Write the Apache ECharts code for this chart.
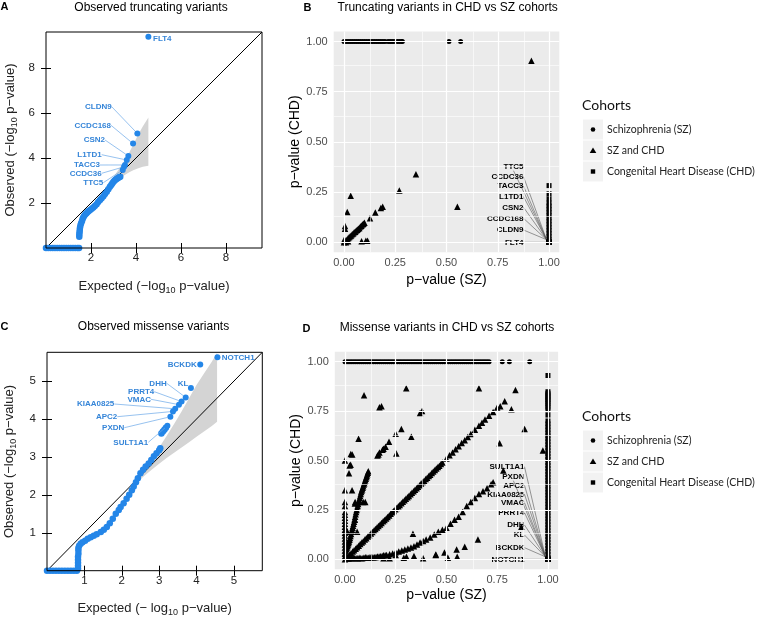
<!DOCTYPE html>
<html><head><meta charset="utf-8">
<script src="https://cdn.jsdelivr.net/npm/echarts@6/dist/echarts.min.js"></script>
<style>html,body{margin:0;padding:0;background:#fff}#c{width:758px;height:618px}</style>
</head><body><div id="c"></div>
<script>
// ---------------- DATA ----------------
// Panel A : QQ plot, truncating variants (expected / observed -log10 p)
const qqA_exp = [0,0.1,0.2,0.3,0.4,0.5,0.6,0.7,0.8,0.9,1.0,1.1,1.2,1.3,1.4,1.47,
  1.48,1.48,1.49,1.5,1.51,1.53,1.56,1.6,1.63,1.66,1.7,1.75,1.8,1.85,1.9,1.96,2.03,2.1,2.17,2.25,2.32,2.4,2.47,2.55,2.62,2.7,2.77,2.84,2.9,2.95,3.0,3.05,3.1,3.15,3.2,3.25,3.3];
const qqA_obs = [0,0,0,0,0,0,0,0,0,0,0,0,0,0,0,0,
  0.5,0.6,0.7,0.8,0.9,1.0,1.1,1.2,1.3,1.37,1.43,1.5,1.55,1.6,1.65,1.69,1.74,1.8,1.87,1.95,2.04,2.13,2.21,2.3,2.4,2.5,2.61,2.72,2.8,2.88,2.95,3.0,3.05,3.08,3.11,3.14,3.17];
const genesA = ['FLT4','CLDN9','CCDC168','CSN2','L1TD1','TACC3','CCDC36','TTC5'];
const genesA_exp = [4.55,4.06,3.87,3.66,3.59,3.51,3.47,3.41];
const genesA_obs = [9.39,5.09,4.64,4.09,3.91,3.69,3.61,3.47];
const bandA_x  = [2.9,3.1,3.3,3.5,3.7,3.9,4.1,4.3,4.55];
const bandA_hi = [3.0,3.3,3.6,3.9,4.25,4.65,5.05,5.4,5.8];
const bandA_lo = [2.8,2.98,3.12,3.25,3.37,3.47,3.55,3.61,3.66];
const diagA = [0, 9.6];
const ticksA = [2,4,6,8];

// Panel C : QQ plot, missense variants
const qqC_exp = [0,0.08,0.16,0.24,0.32,0.4,0.48,0.56,0.64,0.72,0.8,
  0.83,0.83,0.83,0.83,0.83,0.84,0.84,0.84,
  0.86,0.9,0.95,1.02,1.09,1.17,1.25,1.33,1.44,1.52,1.6,1.68,1.76,1.84,1.92,1.97,2.05,2.13,2.2,2.27,2.32,2.38,2.43,2.5,2.57,2.64,2.72,2.79,2.86,2.93,3.0,3.03,
  3.06,3.1,3.14,3.18];
const qqC_obs = [0,0,0,0,0,0,0,0,0,0,0,
  0.05,0.13,0.21,0.29,0.37,0.45,0.53,0.6,
  0.66,0.71,0.75,0.79,0.84,0.88,0.92,0.96,1.02,1.08,1.15,1.25,1.37,1.5,1.6,1.68,1.78,1.9,2.0,2.12,2.22,2.33,2.44,2.57,2.66,2.75,2.83,2.92,3.02,3.1,3.18,3.23,
  3.62,3.67,3.72,3.77];
const genesC = ['NOTCH1','BCKDK','KL','DHH','PRRT4','VMAC','KIAA0825','APC2','PXDN','SULT1A1'];
const genesC_exp = [4.56,4.1,3.85,3.71,3.6,3.53,3.43,3.37,3.3,3.22];
const genesC_obs = [5.63,5.44,4.82,4.57,4.46,4.38,4.27,4.2,4.06,3.82];
const bandC_x  = [2.4,2.6,2.8,3.0,3.2,3.4,3.6,3.8,4.0,4.2,4.4,4.55];
const bandC_hi = [2.5,2.72,2.97,3.25,3.55,3.87,4.2,4.55,4.9,5.2,5.5,5.74];
const bandC_lo = [2.32,2.5,2.66,2.82,2.97,3.11,3.25,3.39,3.53,3.67,3.81,3.93];
const diagC = [0, 5.76];
const ticksC = [1,2,3,4,5];

// Cohorts
const cohortNames = ['Schizophrenia (SZ)','SZ and CHD','Congenital Heart Disease (CHD)'];
const ONLY_P = 1; // p-value of the cohort in which a gene is absent

// Panel B : truncating, p(SZ) vs p(CHD)
const bCircX = [0,0.01,0.02,0.03,0.04,0.05,0.06,0.07,0.08,0.09,0.1,0.11,0.12,0.13,0.14,0.15,0.16,0.17,0.18,0.19,0.2,
  0.215,0.225,0.235,0.245,0.26,0.27,0.28,0.285,0.512,0.569];
const bTriX = [0,0.005,0.01,0.015,0.02,0.025,0.03,0.035,0.04,0.045,0.05,0.055,0.06,0.065,0.07,0.075,0.08,0.085,0.09,0.095,0.1,
  0.127,0.153,0.18,0.189,0.27,0.351,0.553,0.914, 0.005,0.005,0.016,0.033, 0.086,0.107,0.115, 0.0,0.01,0.02];
const bTriY = [0,0.005,0.01,0.012,0.02,0.024,0.03,0.033,0.04,0.043,0.05,0.052,0.058,0.062,0.067,0.07,0.078,0.082,0.088,0.092,0.097,
  0.119,0.148,0.17,0.177,0.257,0.339,0.176,0.904, 0.067,0.08,0.15,0.231, 0.005,0.007,0.007, 0.01,0.0,0.005];
const bSqY = [0,0.015,0.03,0.045,0.06,0.075,0.09,0.105,0.12,0.135,0.15,0.165,0.18,0.195,0.216,0.241,0.282];
const genesB = ['TTC5','CCDC36','TACC3','L1TD1','CSN2','CCDC168','CLDN9','FLT4'];
const genesB_chd = [0,0,0,0,0,0,0,0];

// Panel D : missense, p(SZ) vs p(CHD)
const dCircX = [0,0.01,0.02,0.03,0.04,0.05,0.06,0.07,0.08,0.09,0.1,0.11,0.12,0.13,0.14,0.15,0.16,0.17,0.18,0.19,
  0.2,0.21,0.22,0.23,0.24,0.25,0.26,0.27,0.28,0.29,0.3,0.31,0.32,0.33,0.34,0.35,0.36,0.37,0.38,0.39,
  0.4,0.41,0.42,0.43,0.44,0.45,0.46,0.47,0.48,0.49,0.5,0.51,0.52,0.53,0.54,0.55,0.56,0.57,0.58,0.59,
  0.6,0.61,0.62,0.63,0.64,0.65,0.66,0.67,0.68,0.69,0.7,0.71,0.775,0.81,0.91];
const dDiagX = [0,0.008,0.015,0.023,0.03,0.038,0.045,0.053,0.06,0.068,0.075,0.083,0.09,0.098,0.105,0.113,0.12,0.128,0.135,0.143,
  0.15,0.158,0.165,0.173,0.18,0.188,0.195,0.203,0.21,0.218,0.225,0.233,0.24,0.248,0.255,0.263,0.27,0.278,0.285,0.293,
  0.3,0.308,0.315,0.323,0.33,0.338,0.345,0.353,0.36,0.368,0.375,0.383,0.39,0.398,0.405,0.413,0.42,0.428,0.435,0.443,
  0.45,0.458,0.465,0.473,0.48,
  0.5,0.515,0.53,0.545,0.56,0.575,0.59,0.605,0.62,0.64,0.66,0.675,0.69,0.71,0.73,0.75,0.765,0.787];
const dDiagY = [0,0.008,0.015,0.023,0.031,0.039,0.046,0.054,0.061,0.069,0.077,0.085,0.092,0.1,0.107,0.115,0.122,0.131,0.138,0.146,
  0.153,0.161,0.168,0.176,0.184,0.192,0.199,0.207,0.214,0.222,0.23,0.238,0.245,0.253,0.26,0.268,0.275,0.284,0.291,0.299,
  0.306,0.314,0.321,0.329,0.337,0.345,0.352,0.36,0.367,0.375,0.383,0.391,0.398,0.406,0.413,0.421,0.428,0.437,0.444,0.452,
  0.459,0.467,0.474,0.482,0.49,
  0.51,0.526,0.541,0.557,0.572,0.588,0.603,0.619,0.634,0.655,0.676,0.691,0.707,0.727,0.745,0.768,0.775,0.8];
const dSteepX = [0.0025,0.005,0.0075,0.01,0.0125,0.015,0.0175,0.02,0.0225,0.025,0.0275,0.03,0.0325,0.035,0.0375,0.04,0.0425,0.045,0.0475,0.05,
  0.0525,0.055,0.0575,0.06,0.0625,0.065,0.0675,0.07,0.0725,0.075,0.0775,0.08,0.0825,0.085,0.0875,0.09,0.0925,0.095,0.0975,0.1,
  0.1025,0.105,0.1075,0.11,0.1125,0.115,
  0.16,0.165,0.17,0.19,0.2,0.217,0.25,0.278];
const dSteepY = [0.03,0.045,0.052,0.06,0.068,0.075,0.082,0.09,0.099,0.108,0.118,0.128,0.139,0.15,0.16,0.17,0.18,0.19,0.203,0.215,
  0.228,0.24,0.25,0.26,0.27,0.28,0.29,0.3,0.31,0.32,0.33,0.34,0.348,0.355,0.362,0.37,0.378,0.385,0.392,0.4,
  0.408,0.415,0.422,0.43,0.438,0.445,
  0.525,0.53,0.54,0.56,0.57,0.595,0.635,0.66];
const dZeroX = [0,0,0,0,0,0,0,0,0,0,0,0,0,0,0,0,0,0,0,0];
const dZeroY = [0.015,0.03,0.045,0.06,0.075,0.09,0.105,0.12,0.135,0.15,0.165,0.18,0.195,0.21,0.225,0.24,0.27,0.29,0.35,0.5];
const dLeftX = [0.028,0.02,0.035,0.049,0.09,0.049,0.029,0.036,0.094,0.067,0.023,0.1,0.05,0.012,0.06];
const dLeftY = [0.478,0.435,0.35,0.283,0.29,0.2,0.533,0.53,0.83,0.61,0.475,0.29,0.29,0.14,0.14];
const dMidX = [0.17,0.18,0.302,0.66,0.84,0.82,0.37,0.38,0.327,0.185,0.253,0.762,0.885,0.975,0.78,0.335,0.655,0.869,0.59,0.55,0.553,0.507,0.49,0.447,0.385,0.34,0.29,0.303,0.448,0.22,0.19,0.25];
const dMidY = [0.77,0.775,0.865,0.865,0.857,0.759,0.74,0.75,0.62,0.555,0.536,0.587,0.66,0.55,0.45,0.13,0.10,0.165,0.064,0.05,0.013,0.008,0.035,0.022,0.005,0.017,0.008,0.013,0.025,0.005,0.005,0.022];
const dLowX = [0.01,0.018,0.025,0.033,0.04,0.048,0.055,0.063,0.07,0.078,0.085,0.093,0.1,0.108,0.115,0.123,0.13,0.138,0.145,0.153,0.16,0.168,0.175,0.183,0.19,0.198,0.205,
  0.22,0.235,0.25,0.265,0.28,0.295,0.31,0.325,0.34,0.355,0.37,0.385,0.4,
  0.42,0.44,0.46,0.48,0.5,0.52,0.54,0.56,0.58,0.6,0.62,0.64,0.66,0.68,0.7,0.72,0.73];
const dLowY = [0.005,0.004,0.005,0.006,0.008,0.007,0.005,0.006,0.008,0.007,0.006,0.008,0.01,0.009,0.008,0.01,0.012,0.011,0.01,0.012,0.014,0.014,0.015,0.017,0.02,0.021,0.022,
  0.026,0.03,0.036,0.04,0.045,0.05,0.055,0.06,0.066,0.075,0.085,0.093,0.1,
  0.11,0.125,0.14,0.15,0.16,0.18,0.2,0.215,0.24,0.27,0.29,0.31,0.33,0.345,0.36,0.38,0.39];
const dSqY = [0.93,0.848,0.84,0.832,0.824,0.816,0.808,0.8,0.79,0.78,0.77,0.756,0.73,0.7,0.685,
  0.67,0.655,0.64,0.625,0.61,0.595,0.58,0.565,0.55,0.535,0.52,0.505,0.49,0.475,0.46,0.445,0.43,0.415,0.4,0.385,0.37,0.355,0.34,0.325,0.31,
  0.295,0.28,0.265,0.25,0.235,0.22,0.205,0.19,0.175,0.16,0.145,0.13,0.115,0.1,0.085,0.07,0.055,0.04,0.025,0.01,0];
const genesD = ['SULT1A1','PXDN','APC2','KIAA0825','VMAC','PRRT4','DHH','KL','BCKDK','NOTCH1'];
const genesD_chd = [0,0,0,0,0,0,0,0,0,0];

// ggplot scale breaks
const pBreaks = [0,0.25,0.5,0.75,1];
const pBreakLabels = ['0.00','0.25','0.50','0.75','1.00'];
const pMinor = [0.125,0.375,0.625,0.875];

// ---------------- STYLE / LAYOUT ----------------
const FONT = 'Liberation Sans';
const LFONT = 'Lato';
const BLUE = '#2486E8';
// label anchor: [x, y, align] in px (text edge), for the gene call-outs
const labelPos = {
  A: {FLT4:[153,38.7,'left'],CLDN9:[111.7,106.7,'right'],CCDC168:[111,125.3,'right'],CSN2:[105,140,'right'],
      L1TD1:[101.7,154.7,'right'],TACC3:[100,165,'right'],CCDC36:[101.7,173.3,'right'],TTC5:[103.3,182.7,'right']},
  C: {NOTCH1:[221.7,357.3,'left'],BCKDK:[196.7,364.3,'right'],KL:[188.3,383.3,'right'],DHH:[166.7,383.3,'right'],
      PRRT4:[154.3,391.7,'right'],VMAC:[151,399.3,'right'],KIAA0825:[114.3,404,'right'],APC2:[117.3,416.7,'right'],
      PXDN:[124.3,427.7,'right'],SULT1A1:[148.3,442.3,'right']},
  B: {TTC5:166.7,CCDC36:176.7,TACC3:186,L1TD1:196.7,CSN2:207.3,CCDC168:218.3,CLDN9:230,FLT4:242.3},
  D: {SULT1A1:466.7,PXDN:476.7,APC2:485.3,KIAA0825:494.3,VMAC:502.7,PRRT4:512.7,DHH:525,KL:535,BCKDK:547.7,NOTCH1:559.3}
};
const noLine = ['FLT4','NOTCH1','BCKDK','KL'];
const PAD_R = 2, PAD_L = 70;   // wide left padding makes the guide line leave from the text's right end

const zip = (xs, ys) => xs.map((x, i) => [x, ys[i]]);

// ---------------- AXES ----------------
function rAxisX(gi, max, ticks, name, pos, gap) {
  return {gridIndex: gi, type: 'value', min: 0, max: max, position: pos,
    axisLine: {show: false}, splitLine: {show: false},
    axisTick: {show: true, customValues: ticks, length: 5, lineStyle: {color: '#000', width: 1}},
    axisLabel: {show: pos === 'bottom', customValues: ticks, margin: 4, fontSize: 11.5, color: '#222', fontFamily: FONT},
    name: name || '', nameLocation: 'middle', nameGap: gap || 0,
    nameTextStyle: {fontSize: 13, color: '#222', fontFamily: FONT, lineHeight: 17,
      rich: {s: {fontSize: 9, lineHeight: 9, verticalAlign: 'bottom', fontFamily: FONT, color: '#222'}}}};
}
function rAxisY(gi, max, ticks, name, pos, gap) {
  const a = rAxisX(gi, max, ticks, name, pos, gap);
  a.axisLabel.show = pos === 'left';
  a.axisLabel.margin = 11;
  return a;
}
function ggAxis(gi, name, gap, isY) {
  return {gridIndex: gi, type: 'value', min: -0.05, max: 1.05,
    axisLine: {show: false}, splitLine: {show: false},
    axisTick: {show: true, customValues: pBreaks, length: 3.5, lineStyle: {color: '#333', width: 1}},
    axisLabel: {customValues: pBreaks, margin: isY ? 6 : 5, fontSize: 11, color: '#4D4D4D', fontFamily: FONT,
      formatter: v => pBreakLabels[pBreaks.indexOf(v)] ?? v.toFixed(2)},
    name: name, nameLocation: 'middle', nameGap: gap,
    nameTextStyle: {fontSize: 14, color: '#000', fontFamily: FONT}};
}

const xNameA = 'Expected (\u2212log{s|10} p\u2212value)';
const yNameA = 'Observed (\u2212log{s|10} p\u2212value)';
const xNameC = 'Expected (\u2212 log{s|10} p\u2212value)';
const yNameC = 'Observed (\u2212log{s|10} p\u2212value)';

const xAxes = [
  rAxisX(0, 9.6, ticksA, xNameA, 'bottom', 30),
  rAxisX(0, 9.6, ticksA, '', 'top', 0),
  ggAxis(1, 'p\u2212value (SZ)', 21, false),
  rAxisX(2, 5.76, ticksC, xNameC, 'bottom', 29),
  rAxisX(2, 5.76, ticksC, '', 'top', 0),
  ggAxis(3, 'p\u2212value (SZ)', 19, false)
];
const yAxes = [
  rAxisY(0, 9.6, ticksA, yNameA, 'left', 27),
  rAxisY(0, 9.6, ticksA, '', 'right', 0),
  ggAxis(1, 'p\u2212value (CHD)', 31, true),
  rAxisY(2, 5.76, ticksC, yNameC, 'left', 29),
  rAxisY(2, 5.76, ticksC, '', 'right', 0),
  ggAxis(3, 'p\u2212value (CHD)', 32, true)
];

// ---------------- SERIES ----------------
function bandSeries(ai, bx, hi, lo) {
  return {type: 'custom', xAxisIndex: ai, yAxisIndex: ai, z: 1, silent: true,
    data: [[bx[0], lo[0]]],
    renderItem: (params, api) => {
      const pts = [];
      for (let i = 0; i < bx.length; i++) pts.push(api.coord([bx[i], hi[i]]));
      for (let i = bx.length - 1; i >= 0; i--) pts.push(api.coord([bx[i], lo[i]]));
      return {type: 'polygon', shape: {points: pts}, style: {fill: '#D4D4D4', stroke: null}};
    }};
}
function diagSeries(ai, d) {
  return {type: 'line', xAxisIndex: ai, yAxisIndex: ai, z: 2, silent: true, symbol: 'none',
    data: [[d[0], d[0]], [d[1], d[1]]], lineStyle: {color: '#000', width: 1}};
}
function qqSeries(ai, xs, ys) {
  return {type: 'scatter', xAxisIndex: ai, yAxisIndex: ai, z: 3, symbolSize: 6.5,
    itemStyle: {color: BLUE, opacity: 1}, data: zip(xs, ys)};
}
function qqGeneSeries(ai, names, xs, ys, pos) {
  return {type: 'scatter', xAxisIndex: ai, yAxisIndex: ai, z: 4, symbolSize: 6,
    itemStyle: {color: BLUE, opacity: 1},
    data: names.map((n, i) => {
      const right = pos[n][2] === 'right';
      return {name: n, value: [xs[i], ys[i]],
        label: {padding: right ? [4, PAD_R, 4, PAD_L] : 0},
        labelLine: {show: noLine.indexOf(n) < 0}};
    }),
    label: {show: true, position: 'left', formatter: '{b}', fontSize: 8, fontWeight: 'bold', color: '#3585D8',
      fontFamily: FONT, textBorderWidth: 0},
    labelLine: {show: true, lineStyle: {color: '#6AA8E8', width: 0.7}},
    labelLayout: p => {
      const q = pos[names[p.dataIndex]];
      const right = q[2] === 'right';
      return {x: right ? q[0] + PAD_R : q[0], y: q[1], align: q[2], verticalAlign: 'middle'};
    }};
}
function gridLines(gi) {
  const d = [];
  pMinor.forEach(v => { d.push({xAxis: v, lineStyle: {width: 0.6}}); d.push({yAxis: v, lineStyle: {width: 0.6}}); });
  pBreaks.forEach(v => { d.push({xAxis: v, lineStyle: {width: 1.2}}); d.push({yAxis: v, lineStyle: {width: 1.2}}); });
  return {type: 'scatter', xAxisIndex: gi, yAxisIndex: gi, z: 1, silent: true, data: [],
    markLine: {silent: true, symbol: ['none', 'none'], label: {show: false}, animation: false,
      lineStyle: {color: '#FFFFFF', type: 'solid', opacity: 1}, data: d}};
}
function cohortSeries(ai, k, xs, ys) {
  const sym = ['circle', 'triangle', 'rect'][k];
  const sz = [5, 6.5, 5][k];
  return {type: 'scatter', name: cohortNames[k], xAxisIndex: ai, yAxisIndex: ai, z: 3,
    symbol: sym, symbolSize: sz, itemStyle: {color: '#000', opacity: 1}, data: zip(xs, ys)};
}
function ggGeneSeries(ai, names, chd, pos, rightX) {
  return {type: 'scatter', xAxisIndex: ai, yAxisIndex: ai, z: 4, symbol: 'rect', symbolSize: 5,
    itemStyle: {color: '#000', opacity: 1},
    data: names.map((n, i) => ({name: n, value: [ONLY_P, chd[i]]})),
    label: {show: true, position: 'left', formatter: '{b}', fontSize: 8, fontWeight: 'bold', color: '#000',
      fontFamily: FONT, textBorderWidth: 0, padding: [4, PAD_R, 4, PAD_L]},
    labelLine: {show: true, lineStyle: {color: '#555', width: 0.6}},
    labelLayout: p => ({x: rightX + PAD_R, y: pos[names[p.dataIndex]], align: 'right', verticalAlign: 'middle'})};
}

const series = [
  // A
  bandSeries(0, bandA_x, bandA_hi, bandA_lo),
  diagSeries(0, diagA),
  qqSeries(0, qqA_exp, qqA_obs),
  qqGeneSeries(0, genesA, genesA_exp, genesA_obs, labelPos.A),
  // B
  gridLines(2),
  cohortSeries(2, 0, bCircX, bCircX.map(() => ONLY_P)),
  cohortSeries(2, 1, bTriX, bTriY),
  cohortSeries(2, 2, bSqY.map(() => ONLY_P), bSqY),
  ggGeneSeries(2, genesB, genesB_chd, labelPos.B, 523.5),
  // C
  bandSeries(3, bandC_x, bandC_hi, bandC_lo),
  diagSeries(3, diagC),
  qqSeries(3, qqC_exp, qqC_obs),
  qqGeneSeries(3, genesC, genesC_exp, genesC_obs, labelPos.C),
  // D
  gridLines(5),
  cohortSeries(5, 0, dCircX, dCircX.map(() => ONLY_P)),
  cohortSeries(5, 1, [].concat(dDiagX, dSteepX, dZeroX, dLeftX, dMidX, dLowX), [].concat(dDiagY, dSteepY, dZeroY, dLeftY, dMidY, dLowY)),
  cohortSeries(5, 2, dSqY.map(() => ONLY_P), dSqY),
  ggGeneSeries(5, genesD, genesD_chd, labelPos.D, 524.5)
];

// ---------------- TEXT & LEGENDS ----------------
function txt(s, x, y, size, opts) {
  return Object.assign({type: 'text', x: x, y: y, silent: true, z: 10,
    style: Object.assign({text: s, fontSize: size, fontFamily: FONT, fill: '#000', align: 'center', verticalAlign: 'middle'}, opts || {})});
}
function legendGroup(off) {
  const els = [txt('Cohorts', 582, 105 + off, 14, {align: 'left', fontFamily: LFONT, fill: '#111'})];
  for (let i = 0; i < 3; i++) {
    const cy = 129.5 + off + i * 21;
    els.push({type: 'rect', silent: true, z: 9, shape: {x: 583, y: cy - 10, width: 20, height: 20}, style: {fill: '#F2F2F2'}});
    if (i === 0) els.push({type: 'circle', silent: true, z: 10, shape: {cx: 593, cy: cy, r: 2.3}, style: {fill: '#000'}});
    if (i === 1) els.push({type: 'polygon', silent: true, z: 10, shape: {points: [[593, cy - 3], [596.3, cy + 2.5], [589.7, cy + 2.5]]}, style: {fill: '#000'}});
    if (i === 2) els.push({type: 'rect', silent: true, z: 10, shape: {x: 590.8, y: cy - 2.2, width: 4.4, height: 4.4}, style: {fill: '#000'}});
    els.push(txt(cohortNames[i], 607, cy + 0.5, 10.5, {align: 'left', fontFamily: LFONT, fill: '#222'}));
  }
  return els;
}
const graphics = [].concat(
  [txt('A', 4.5, 7, 11, {fontWeight: 'bold'}),
   txt('Observed truncating variants', 151, 7.5, 12),
   txt('B', 307.5, 7.5, 11, {fontWeight: 'bold'}),
   txt('Truncating variants in CHD vs SZ cohorts', 447.7, 7.5, 12),
   txt('C', 4.5, 327, 11, {fontWeight: 'bold'}),
   txt('Observed missense variants', 153.5, 327, 12),
   txt('D', 306.5, 328.5, 11, {fontWeight: 'bold'}),
   txt('Missense variants in CHD vs SZ cohorts', 447, 327.7, 12)],
  legendGroup(0),
  legendGroup(311)
);

const option = {
  animation: false,
  textStyle: {fontFamily: FONT},
  grid: [
    {left: 46, top: 32, width: 216, height: 216, show: true, borderColor: '#000', borderWidth: 1, backgroundColor: 'rgba(0,0,0,0)', z: 5},
    {left: 333.7, top: 31.5, width: 225.6, height: 220.7, show: true, borderWidth: 0, backgroundColor: '#EBEBEB'},
    {left: 46, top: 352.3, width: 216.3, height: 218.4, show: true, borderColor: '#000', borderWidth: 1, backgroundColor: 'rgba(0,0,0,0)', z: 5},
    {left: 334.8, top: 351.8, width: 223.3, height: 217.4, show: true, borderWidth: 0, backgroundColor: '#EBEBEB'}
  ],
  xAxis: xAxes,
  yAxis: yAxes,
  series: series,
  graphic: {elements: graphics}
};

const chart = echarts.init(document.getElementById('c'), null, {renderer: 'canvas', width: 758, height: 618});
chart.setOption(option);
</script></body></html>
